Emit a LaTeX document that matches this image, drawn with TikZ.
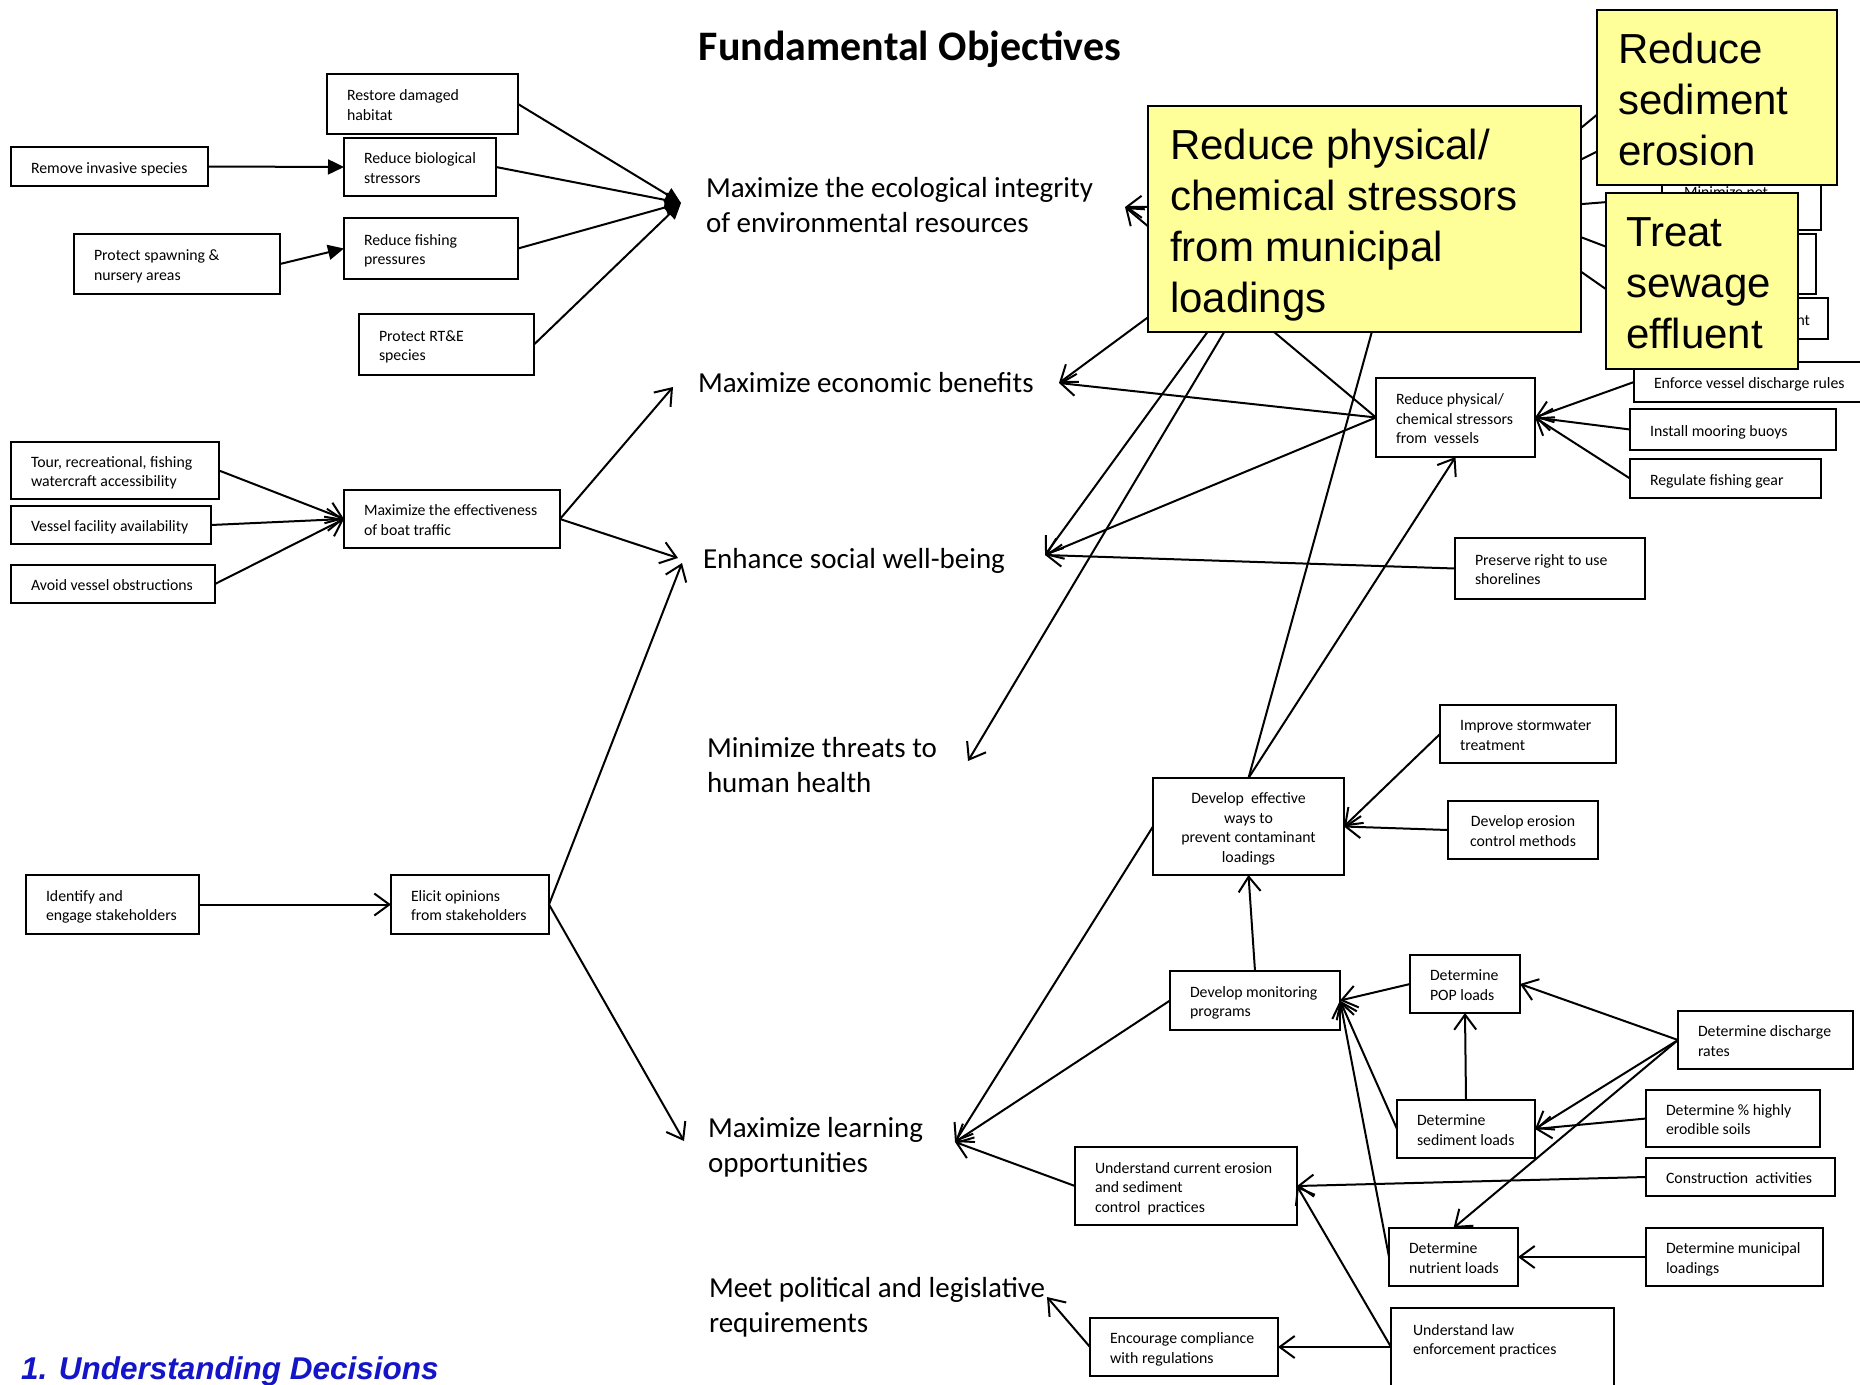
\documentclass[tikz,border=0pt]{standalone}
\usepackage{fontspec}
\setmainfont{Carlito}
\newfontfamily\arialfont{Liberation Sans}
\usetikzlibrary{arrows.meta}
\definecolor{notefill}{HTML}{FFFF99}
\definecolor{capblue}{RGB}{20,20,200}

% stacked lines whose first baseline is the node's base
\newcommand{\txtlines}[1]{\begin{tabular}[t]{@{}l@{}}#1\end{tabular}}
% framed box from (x1,y1) to (x2,y2), text inset 20pt from the left edge
\newcommand{\rbox}[7][l]{%
  \pgfmathsetmacro{\rbW}{#5-#3}%
  \pgfmathsetmacro{\rbT}{#5-#3-40}%
  \pgfmathsetmacro{\rbH}{#6-#4}%
  \node[box, minimum width=\rbW pt, minimum height=\rbH pt] (#2) at (#3,#4)
    {\raisebox{-2.8pt}[\height][\depth]{\makebox[\rbT pt][#1]{\begin{tabular}{@{}#1@{}}#7\end{tabular}}}};}
% yellow call-out box from (x1,y1) to (x2,y2) with a given inset
\newcommand{\nbox}[7]{%
  \pgfmathsetmacro{\rbW}{#4-#2}%
  \pgfmathsetmacro{\rbT}{#4-#2-2*#6}%
  \pgfmathsetmacro{\rbH}{#5-#3}%
  \node[note, inner xsep=#6pt, minimum width=\rbW pt, minimum height=\rbH pt] (#1) at (#2,#3)
    {\raisebox{-6.5pt}[\height][\depth]{\makebox[\rbT pt][l]{\begin{tabular}{@{}l@{}}#7\end{tabular}}}};}

\begin{document}
\begin{tikzpicture}[x=1pt,y=-1pt,line width=2pt,
  box/.style={draw, fill=white, anchor=north west, inner xsep=20pt, inner ysep=0pt,
    outer sep=0pt, font=\fontsize{15.8}{19.5}\selectfont},
  note/.style={draw, fill=notefill, anchor=north west, inner ysep=0pt, outer sep=0pt,
    font=\arialfont\fontsize{42}{51}\selectfont},
  obj/.style={anchor=base west, inner sep=0pt, font=\fontsize{29}{35}\selectfont},
  small/.style={inner sep=0pt, font=\fontsize{15.8}{19.5}\selectfont},
  arr/.style={-{Straight Barb[length=15pt,width=22pt]}},
  farr/.style={-{Triangle[length=16pt,width=15pt]}}]

\fill[white] (0,0) rectangle (1860,1384);
\useasboundingbox (0,0) rectangle (1860,1384);
\clip (0,0) rectangle (1860,1384);

% ---------- headings ----------
\node[anchor=base, inner sep=0pt, font=\bfseries\fontsize{42}{50}\selectfont] (title) at (910,60) {Fundamental Objectives};
\node[anchor=base west, inner sep=0pt, text=capblue,
  font=\arialfont\bfseries\itshape\fontsize{31.5}{36}\selectfont] (caption) at (20,1379) {1. Understanding Decisions};

% ---------- fundamental objectives ----------
\node[obj] (o1) at (705,197) {\txtlines{Maximize the ecological integrity\\of environmental resources}};
\node[obj] (o2) at (697,392) {Maximize economic benefits};
\node[obj] (o3) at (702,568) {Enhance social well-being};
\node[obj] (o4) at (706,757) {\txtlines{Minimize threats to\\human health}};
\node[obj] (o5) at (707,1137) {\txtlines{Maximize learning\\opportunities}};
\node[obj] (o6) at (708,1297) {\txtlines{Meet political and legislative\\requirements}};

% arrow ends next to the objectives
\coordinate (ecoL)   at (681,203);
\coordinate (ecoR)   at (1125,207);
\coordinate (econL)  at (673,387);
\coordinate (econR)  at (1059,383);
\coordinate (socL1)  at (678,558);
\coordinate (socL2)  at (682,563);
\coordinate (socR)   at (1045,555);
\coordinate (healthR) at (968,761);
\coordinate (learnL) at (684,1141);
\coordinate (learnR) at (955,1142);
\coordinate (polR)   at (1047,1297);

% ---------- left-hand means ----------
\rbox{rest}{327}{74}{518}{134}{Restore damaged\\habitat}
\rbox{bio}{344}{138}{496}{196}{Reduce biological\\stressors}
\rbox{rem}{11}{147}{208}{186}{Remove invasive species}
\rbox{spawn}{74}{234}{280}{294}{Protect spawning \&\\nursery areas}
\rbox{fish}{344}{218}{518}{279}{Reduce fishing\\pressures}
\rbox{rte}{359}{314}{534}{375}{Protect RT\&E\\species}

\rbox{tour}{11}{442}{219}{499}{Tour, recreational, fishing\\watercraft accessibility}
\rbox{vfa}{11}{506}{211}{544}{Vessel facility availability}
\rbox{avoid}{11}{565}{215}{603}{Avoid vessel obstructions}
\rbox{boat}{344}{490}{560}{548}{Maximize the effectiveness\\of boat traffic}

\rbox{ident}{26}{875}{199}{934}{Identify and\\engage stakeholders}
\rbox{elicit}{391}{875}{549}{934}{Elicit opinions\\from stakeholders}

% ---------- right-hand means ----------
\rbox{vess}{1376}{378}{1535}{457}{Reduce physical/\\chemical stressors\\from\ \ vessels}
\rbox{moor}{1630}{409}{1836}{450}{Install mooring buoys}
\rbox{gear}{1630}{459}{1821}{498}{Regulate fishing gear}
\rbox{pres}{1455}{538}{1645}{599}{Preserve right to use\\shorelines}
\rbox{storm}{1440}{705}{1616}{763}{Improve stormwater\\treatment}
\rbox[c]{dev}{1153}{778}{1344}{875}{Develop\ \ effective\\ways to\\prevent contaminant\\loadings}
\rbox[c]{eros}{1448}{801}{1598}{859}{Develop erosion\\control methods}
\rbox{mon}{1170}{971}{1340}{1030}{Develop monitoring\\programs}
\rbox{pop}{1410}{955}{1520}{1013}{Determine\\POP loads}
\rbox{disch}{1678}{1011}{1853}{1069}{Determine discharge\\rates}
\rbox{sed}{1397}{1100}{1535}{1158}{Determine\\sediment loads}
\rbox{soil}{1646}{1090}{1820}{1147}{Determine \% highly\\erodible soils}
\rbox{constr}{1646}{1158}{1835}{1196}{Construction\ \ activities}
\rbox{ucur}{1075}{1147}{1297}{1225}{Understand current erosion\\and sediment\\control\ \ practices}
\rbox{nut}{1389}{1228}{1518}{1286}{Determine\\nutrient loads}
\rbox{muni}{1646}{1228}{1823}{1286}{Determine municipal\\loadings}
\rbox{comp}{1090}{1318}{1278}{1376}{Encourage compliance\\with regulations}
\node[box, minimum width=223pt, minimum height=78pt] (law) at (1391,1308) {};
\node[small, anchor=base west] (lawtxt) at (1412,1335) {\txtlines{Understand law\\enforcement practices}};

% boxes partly hidden behind the call-outs
\node[box, minimum width=159pt, minimum height=60pt] (hnet) at (1662,170) {};
\node[small, anchor=base west] (hnettxt) at (1683,197) {Minimize net};
\node[box, minimum width=116pt, minimum height=60pt] (hmid) at (1700,234) {};
\node[box, minimum width=128pt, minimum height=41pt] (hlow) at (1700,298) {};
\node[small, anchor=base east] (hlowtxt) at (1811,325) {nt};
\rbox{enf}{1634}{362}{1880}{402}{Enforce vessel discharge rules}

% hidden ends under the call-outs
\coordinate (mun)  at (1300,205);
\coordinate (munB) at (1400,230);
\coordinate (m1) at (1570,137);  \coordinate (s1) at (1610,104);
\coordinate (m2) at (1570,165);  \coordinate (s2) at (1610,145);
\coordinate (m3) at (1570,205);  \coordinate (t3) at (1620,201);
\coordinate (m4) at (1570,233);  \coordinate (t4) at (1620,252);
\coordinate (m5) at (1570,264);  \coordinate (t5) at (1620,299);

% ---------- connectors: left ----------
\draw[farr] (rem.east) -- (bio.west);
\draw[farr] (spawn.east) -- (fish.west);
\draw[farr] (rest.east) -- (ecoL);
\draw[farr] (bio.east) -- (ecoL);
\draw[farr] (fish.east) -- (ecoL);
\draw[farr] (rte.east) -- (ecoL);

\draw[arr] (tour.east) -- (boat.west);
\draw[arr] (vfa.east) -- (boat.west);
\draw[arr] (avoid.east) -- (boat.west);
\draw[arr] (boat.east) -- (econL);
\draw[arr] (boat.east) -- (socL1);

\draw[arr] (ident.east) -- (elicit.west);
\draw[arr] (elicit.east) -- (socL2);
\draw[arr] (elicit.east) -- (learnL);

% ---------- connectors: right ----------
\draw[arr] (mun) -- (ecoR);
\draw[arr] (mun) -- (econR);
\draw[arr] (mun) -- (socR);
\draw[arr] (mun) -- (healthR);
\draw[arr] (vess.west) -- (ecoR);
\draw[arr] (vess.west) -- (econR);
\draw[arr] (vess.west) -- (socR);
\draw[arr] (pres.west) -- (socR);
\draw[arr] (enf.west) -- (vess.east);
\draw[arr] (moor.west) -- (vess.east);
\draw[arr] (gear.west) -- (vess.east);
\draw (dev.north) -- (munB);
\draw[arr] (dev.north) -- (vess.south);
\draw (m1) -- (s1);
\draw (m2) -- (s2);
\draw (m3) -- (t3);
\draw (m4) -- (t4);
\draw (m5) -- (t5);

\draw[arr] (storm.west) -- (dev.east);
\draw[arr] (eros.west) -- (dev.east);
\draw[arr] (mon.north) -- (dev.south);
\draw[arr] (pop.west) -- (mon.east);
\draw[arr] (sed.west) -- (mon.east);
\draw[arr] (nut.west) -- (mon.east);
\draw[arr] (disch.west) -- (pop.east);
\draw[arr] (disch.west) -- (sed.east);
\draw[arr] (disch.west) -- (nut.north);
\draw[arr] (sed.north) -- (pop.south);
\draw[arr] (soil.west) -- (sed.east);
\draw[arr] (constr.west) -- (ucur.east);
\draw[arr] (law.west) -- (ucur.east);
\draw[arr] (law.west) -- (comp.east);
\draw[arr] (muni.west) -- (nut.east);
\draw[arr] (dev.west) -- (learnR);
\draw[arr] (mon.west) -- (learnR);
\draw[arr] (ucur.west) -- (learnR);
\draw[arr] (comp.west) -- (polR);

% ---------- yellow call-outs on top ----------
\nbox{ymun}{1148}{106}{1581}{332}{22}{Reduce physical/\\chemical stressors\\from municipal\\loadings}
\nbox{ysed}{1597}{10}{1837}{185}{21}{Reduce\\sediment\\erosion}
\nbox{ysew}{1606}{193}{1798}{369}{20}{Treat\\sewage\\effluent}
\end{tikzpicture}
\end{document}
